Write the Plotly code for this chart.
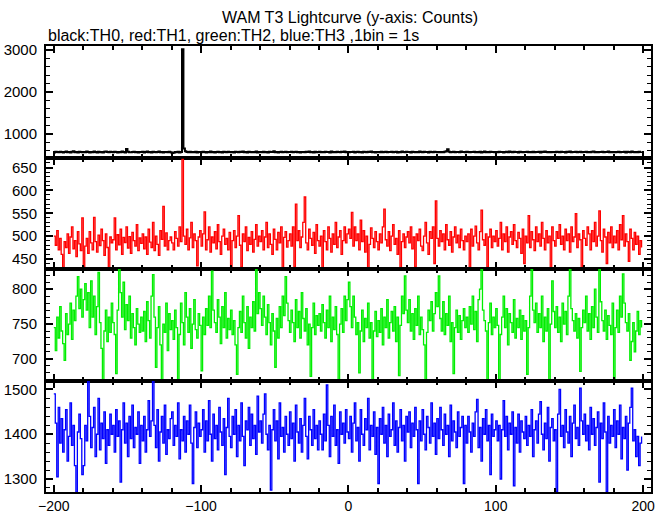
import plotly.graph_objects as go

# time bins (seconds), 1 bin = 1 s
time_s = list(range(-200, 200))

th0_black = [
    560,575,571,566,580,569,558,572,584,565,570,561,577,590,568,573,562,579,570,566,
    574,563,581,569,557,572,566,585,571,562,578,567,573,560,576,582,569,564,575,571,
    566,579,570,561,574,568,583,572,559,645,578,567,563,571,577,565,570,558,574,569,
    575,562,570,581,567,573,560,577,569,564,572,586,566,571,558,574,569,563,578,567,
    548,556,571,565,577,562,570,3020,655,590,572,566,579,563,571,568,575,560,573,569,
    564,577,571,559,574,568,582,566,573,561,570,577,565,572,559,576,569,563,580,571,
    567,574,560,578,569,563,575,571,584,566,572,558,577,570,565,573,568,581,562,574,
    570,565,579,567,573,561,576,569,572,587,566,574,560,571,578,564,570,575,563,572,
    569,576,563,572,580,567,571,558,574,569,565,578,570,582,566,573,561,577,568,572,
    575,563,571,567,579,570,574,561,586,568,572,565,577,569,563,575,570,584,567,571,
    566,574,569,578,562,571,576,568,573,560,579,570,565,575,569,583,567,572,561,574,
    570,565,577,568,572,580,563,574,569,575,566,571,579,562,573,568,585,570,564,576,
    569,573,561,578,570,566,574,568,582,571,563,576,569,572,560,575,570,567,579,571,
    565,574,568,572,563,577,590,635,575,566,571,578,563,570,574,568,581,569,572,565,
    576,570,563,574,569,579,566,572,568,575,561,573,584,567,571,564,577,569,573,566,
    572,565,578,569,574,562,571,577,566,583,570,564,575,569,572,560,578,571,567,574,
    569,576,563,571,568,580,566,573,570,575,562,577,569,586,571,565,573,568,574,570,
    563,575,571,567,578,569,572,561,576,570,584,566,573,569,575,564,571,578,566,572,
    570,577,564,572,568,575,581,567,571,563,574,569,578,566,572,570,585,568,573,565,
    574,568,571,579,566,573,569,576,562,575,570,567,581,572,568,574,565,577,570,571,
]

th1_red = [
    500,480,512,470,495,460,430,488,475,505,462,498,520,472,490,455,510,483,468,540,
    432,478,495,462,510,485,470,541,488,465,502,479,515,490,458,505,475,430,498,485,
    492,540,470,503,481,515,460,497,486,520,474,499,462,508,490,478,525,468,496,484,
    505,472,498,460,515,487,475,530,468,500,482,458,512,493,565,478,507,470,490,498,
    485,470,510,495,478,520,488,668,500,482,515,470,496,530,475,505,490,435,498,512,
    478,505,553,470,492,520,465,498,485,510,472,525,488,460,500,515,482,495,470,508,
    430,490,512,475,500,545,480,432,505,488,520,468,497,482,510,465,493,525,478,500,
    488,512,470,498,530,475,505,482,460,515,493,470,508,485,520,430,497,510,476,490,
    505,478,520,432,570,490,512,475,498,530,586,485,470,515,495,480,508,462,525,490,
    478,500,430,512,488,470,520,495,465,505,482,530,475,498,512,460,490,520,485,505,
    515,495,552,478,520,490,505,470,535,488,512,465,500,430,482,518,495,475,510,488,
    470,505,485,520,559,492,478,510,468,500,525,482,495,460,512,430,488,505,475,498,
    510,485,520,472,498,432,505,490,515,478,468,500,530,485,460,510,495,520,440,577,
    495,478,512,488,505,470,525,492,480,510,465,498,520,485,502,475,515,490,470,500,
    488,505,430,515,478,500,522,485,470,510,557,492,480,505,432,498,515,475,500,488,
    512,478,495,530,470,505,488,520,465,498,510,482,525,490,475,508,495,462,515,440,
    500,485,545,475,510,492,468,520,488,505,478,530,495,470,512,485,500,430,520,490,
    478,510,495,525,482,500,470,515,490,505,465,520,488,498,549,475,505,492,430,512,
    495,480,520,505,470,512,488,530,478,500,555,490,465,515,498,440,508,485,520,475,
    500,485,512,470,525,492,545,478,505,488,445,515,495,470,508,482,500,460,490,475,
]

th2_green = [
    745,712,760,730,775,740,722,698,765,735,750,780,728,770,755,790,818,772,800,760,
    785,808,770,795,745,812,760,790,735,775,824,752,715,669,740,770,725,760,738,780,
    752,735,679,770,829,795,760,810,742,778,755,790,730,765,745,720,772,750,738,760,
    740,768,725,782,755,730,790,821,760,688,745,775,720,669,750,738,780,712,765,742,
    755,728,770,745,669,735,780,752,720,795,760,738,772,715,750,785,742,730,765,748,
    683,760,735,772,748,790,745,826,770,752,738,785,760,722,775,745,795,730,758,742,
    770,735,755,720,678,745,768,738,790,752,730,775,715,760,745,782,740,829,765,795,
    772,748,790,760,735,778,752,720,765,740,688,758,730,775,745,790,762,818,780,755,
    738,770,752,725,785,745,768,730,795,758,740,772,720,750,675,745,780,735,762,748,
    765,740,778,752,730,770,745,790,725,760,742,775,735,669,750,772,738,790,755,785,
    810,775,745,790,760,735,752,680,740,770,725,758,745,780,730,752,669,740,768,732,
    755,738,772,720,760,745,785,730,752,768,740,775,725,760,676,748,790,765,819,770,
    752,785,740,765,728,772,748,790,735,760,742,720,669,738,770,755,782,740,765,795,
    775,819,758,740,782,735,765,748,790,725,752,679,745,770,738,762,728,755,772,745,
    760,738,775,750,790,742,768,725,785,800,829,770,755,740,669,752,780,735,760,745,
    772,748,669,735,760,790,745,772,720,765,752,738,785,730,758,745,770,728,762,740,
    755,678,745,790,829,770,752,780,738,765,745,790,725,760,740,772,669,750,812,768,
    745,775,738,760,725,780,750,768,735,790,829,772,755,740,765,730,758,682,745,770,
    752,790,740,765,728,775,745,800,760,738,829,782,755,740,770,728,762,748,735,780,
    669,745,770,738,790,760,822,780,752,740,765,698,725,752,710,740,768,735,755,745,
]

th3_blue = [
    1490,1425,1305,1460,1380,1435,1360,1410,1455,1340,1395,1470,1375,1420,1330,1270,1405,1445,1390,1310,
    1330,1420,1385,1520,1440,1370,1415,1460,1350,1400,1480,1365,1425,1390,1450,1335,1410,1375,1445,1400,
    1420,1360,1455,1395,1430,1293,1410,1470,1380,1425,1350,1440,1390,1465,1370,1415,1400,1450,1335,1420,
    1385,1440,1360,1410,1475,1395,1430,1520,1420,1370,1455,1340,1405,1440,1380,1465,1355,1410,1390,1435,
    1450,1375,1420,1395,1470,1345,1410,1385,1440,1360,1430,1400,1465,1380,1290,1415,1450,1370,1425,1395,
    1410,1455,1360,1430,1385,1475,1400,1340,1445,1390,1420,1365,1460,1405,1375,1435,1310,1415,1480,1395,
    1370,1440,1400,1455,1350,1420,1385,1470,1395,1330,1430,1410,1460,1375,1445,1390,1420,1355,1485,1405,
    1430,1380,1445,1490,1400,1365,1420,1275,1410,1455,1385,1430,1345,1470,1395,1415,1360,1440,1400,1375,
    1450,1390,1425,1340,1465,1405,1380,1435,1360,1420,1480,1395,1345,1440,1410,1375,1455,1390,1420,1365,
    1430,1400,1365,1445,1385,1510,1420,1350,1440,1395,1465,1375,1410,1335,1450,1400,1425,1380,1455,1405,
    1390,1440,1360,1425,1470,1385,1415,1340,1455,1400,1375,1435,1410,1480,1365,1420,1395,1450,1355,1415,
    1290,1435,1400,1460,1380,1420,1350,1445,1395,1410,1470,1375,1430,1360,1415,1455,1385,1420,1340,1440,
    1405,1450,1370,1425,1395,1460,1410,1290,1430,1385,1455,1400,1365,1440,1415,1380,1470,1395,1425,1355,
    1435,1390,1460,1410,1375,1445,1400,1420,1350,1465,1385,1430,1405,1370,1450,1395,1415,1440,1290,1420,
    1380,1440,1405,1360,1425,1395,1450,1478,1370,1415,1340,1435,1400,1455,1385,1420,1310,1445,1395,1410,
    1430,1385,1420,1300,1410,1475,1395,1440,1365,1425,1400,1450,1285,1415,1380,1445,1360,1430,1405,1390,
    1440,1375,1420,1395,1455,1350,1410,1430,1380,1445,1473,1400,1365,1425,1390,1460,1340,1415,1435,1385,
    1410,1271,1445,1500,1395,1420,1370,1455,1405,1380,1440,1350,1425,1465,1390,1415,1375,1503,1430,1400,
    1445,1385,1420,1365,1460,1400,1435,1375,1415,1450,1293,1425,1390,1470,1405,1271,1440,1380,1420,1395,
    1455,1370,1430,1400,1465,1345,1415,1390,1440,1320,1425,1460,1503,1385,1410,1350,1395,1330,1380,1395,
]

title_text = "WAM T3 Lightcurve (y-axis: Counts)"
subtitle_text = "black:TH0, red:TH1, green:TH2, blue:TH3 ,1bin = 1s"

series = [
    ("TH0", th0_black, "black", 2, [440, 3100], 1000, 200),
    ("TH1", th1_red, "red", 1.3, [428, 672], 50, 10),
    ("TH2", th2_green, "#00ee00", 1.3, [669, 829], 50, 10),
    ("TH3", th3_blue, "blue", 1.3, [1271, 1520], 100, 20),
]

W, H = 669, 515
ML, MT, PW, PH = 46, 46, 605, 446

FONT = "Liberation Sans, Arial, Helvetica, sans-serif"
fig = go.Figure()
domains = [[0.75, 1.0], [0.5, 0.75], [0.25, 0.5], [0.0, 0.25]]
layout = {}
for i, (name, vals, color, lw, yr, dmaj, dmin) in enumerate(series):
    n = i + 1
    xa = "x" if n == 1 else f"x{n}"
    ya = "y" if n == 1 else f"y{n}"
    fig.add_trace(go.Scatter(x=time_s, y=vals, name=name, mode="lines",
                             line=dict(color=color, width=lw, shape="hv"),
                             xaxis=xa, yaxis=ya, showlegend=False))
    xkey = "xaxis" if n == 1 else f"xaxis{n}"
    ykey = "yaxis" if n == 1 else f"yaxis{n}"
    layout[xkey] = dict(
        anchor=ya, range=[-205.3, 205.4], domain=[0, 1], automargin=False,
        showline=True, linewidth=2, linecolor="black", mirror="allticks",
        ticks="inside", ticklen=7, tickwidth=2, tickcolor="black", dtick=100, tick0=0,
        minor=dict(ticks="inside", ticklen=4, tickwidth=1.5, tickcolor="black", dtick=20),
        showgrid=False, zeroline=False, showticklabels=(n == 4),
        tickfont=dict(family=FONT, size=14, color="black"),
        ticklabelstandoff=0,
    )
    if n != 1:
        layout[xkey]["matches"] = "x"
    layout[ykey] = dict(
        anchor=xa, domain=domains[i], range=yr, automargin=False,
        showline=True, linewidth=2, linecolor="black", mirror="allticks",
        ticks="inside", ticklen=7, tickwidth=2, tickcolor="black", dtick=dmaj, tick0=0,
        minor=dict(ticks="inside", ticklen=4, tickwidth=1, tickcolor="black", dtick=dmin),
        showgrid=False, zeroline=False,
        tickfont=dict(family=FONT, size=15, color="black"),
        ticklabelstandoff=4,
    )

fig.update_layout(
    width=W, height=H,
    margin=dict(l=ML, r=W - ML - PW, t=MT, b=H - MT - PH, autoexpand=False),
    paper_bgcolor="white", plot_bgcolor="white",
    title=dict(text=title_text, x=350 / W, xanchor="center", y=1 - 17 / H,
               xref="container", yref="container", yanchor="middle",
               font=dict(family=FONT, size=16, color="black")),
    annotations=[dict(text=subtitle_text, xref="paper", yref="paper", x=0.0, y=(PH + MT - 35) / PH,
                      xanchor="left", yanchor="middle", showarrow=False,
                      font=dict(family=FONT, size=16, color="black"))],
    **layout,
)

# remove the default 8px page margin so the figure sits at the window's corner
fig.write_html("out.html", config={"displayModeBar": False},
               post_script="document.body.style.margin='0px';")
